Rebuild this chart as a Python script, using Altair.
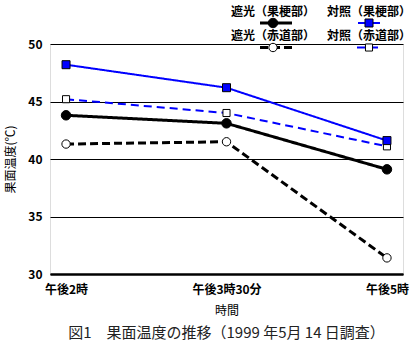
import altair as alt
import pandas as pd

times = ["午後2時", "午後3時30分", "午後5時"]
series = ["遮光（果梗部）", "対照（果梗部）", "遮光（赤道部）", "対照（赤道部）"]
shade_stem = [43.8, 43.1, 39.1]
ctrl_stem = [48.2, 46.2, 41.6]
shade_equator = [41.3, 41.5, 31.4]
ctrl_equator = [45.2, 44.0, 41.1]
values = [shade_stem, ctrl_stem, shade_equator, ctrl_equator]

rows = []
for name, vals in zip(series, values):
    for t, v in zip(times, vals):
        rows.append({"series": name, "time": t, "temp": v})
df = pd.DataFrame(rows)

FONT = "Noto Sans CJK JP"

x_enc = alt.X("time:N", sort=times, title="時間",
              scale=alt.Scale(type="point", padding=0.1),
              axis=alt.Axis(labelAngle=0, labelFontWeight="bold", labelFontSize=12,
                            labelFont=FONT, labelColor="black", labelPadding=10,
                            ticks=False, domain=True, domainColor="black", domainWidth=2.5,
                            titleFont=FONT, titleFontSize=12, titleFontWeight="normal",
                            titleColor="black", titlePadding=10, grid=False))
y_enc = alt.Y("temp:Q", title="果面温度(℃)",
              scale=alt.Scale(domain=[30, 50], nice=False),
              axis=alt.Axis(values=[30, 35, 40, 45, 50], labelFontWeight="bold",
                            labelFontSize=12, labelFont=FONT, labelColor="black",
                            labelPadding=8, ticks=False, domain=False,
                            grid=True, gridColor="black", gridWidth=1, gridOpacity=1,
                            titleFont=FONT, titleFontSize=12, titleFontWeight="normal",
                            titleColor="black", titlePadding=10))

styles = {
    series[0]: dict(color="black", width=3, dash=[1, 0], shape="circle", fill="black", size=90),
    series[1]: dict(color="#0000ff", width=2, dash=[1, 0], shape="square", fill="#0000ff", size=64),
    series[2]: dict(color="black", width=3, dash=[8, 4], shape="circle", fill="white", size=70),
    series[3]: dict(color="#0000ff", width=2, dash=[8, 5], shape="square", fill="white", size=50),
}

layers = []
for name in [series[2], series[0], series[3], series[1]]:
    st = styles[name]
    base = alt.Chart(df).transform_filter(alt.datum.series == name)
    layers.append(base.mark_line(color=st["color"], strokeWidth=st["width"],
                                 strokeDash=st["dash"]).encode(x=x_enc, y=y_enc))
    layers.append(base.mark_point(shape=st["shape"], filled=True, fill=st["fill"],
                                  stroke="black", strokeWidth=1, opacity=1,
                                  size=st["size"]).encode(x=x_enc, y=y_enc))

# custom legend (text above symbol, two columns)
legend_pos = {
    series[0]: (223, -32, -21, 210, 242),
    series[1]: (319, -32, -21, 308, 330),
    series[2]: (223, -8, 3.5, 210, 242),
    series[3]: (319, -8, 3.5, 307, 333),
}
for name in series:
    st = styles[name]
    cx, ty, sy, x1, x2 = legend_pos[name]
    ld = pd.DataFrame({"series": [name]})
    lb = alt.Chart(ld)
    layers.append(lb.mark_text(font=FONT, fontSize=12, fontWeight="bold", color="black",
                               align="center", baseline="middle")
                  .encode(text="series:N", x=alt.value(cx), y=alt.value(ty)))
    layers.append(lb.mark_rule(color=st["color"], strokeWidth=st["width"],
                               strokeDash=st["dash"])
                  .encode(x=alt.value(x1), x2=alt.value(x2), y=alt.value(sy)))
    layers.append(lb.mark_point(shape=st["shape"], filled=True, fill=st["fill"],
                                stroke="black", strokeWidth=1, opacity=1, size=st["size"])
                  .encode(x=alt.value(cx), y=alt.value(sy)))

chart = alt.layer(*layers).properties(
    width=353, height=230,
    title=alt.TitleParams("図1　果面温度の推移（1999 年5月 14 日調査）", orient="bottom",
                          anchor="middle", font=FONT, fontSize=15, fontWeight="normal",
                          color="#222222", offset=10),
    autosize=alt.AutoSizeParams(type="none"),
    padding={"left": 50, "top": 44, "right": 14, "bottom": 79},
).configure_view(stroke="black", strokeWidth=1.5).configure(background="white")

chart.save("out.html", embed_options={"renderer": "svg", "actions": False})
